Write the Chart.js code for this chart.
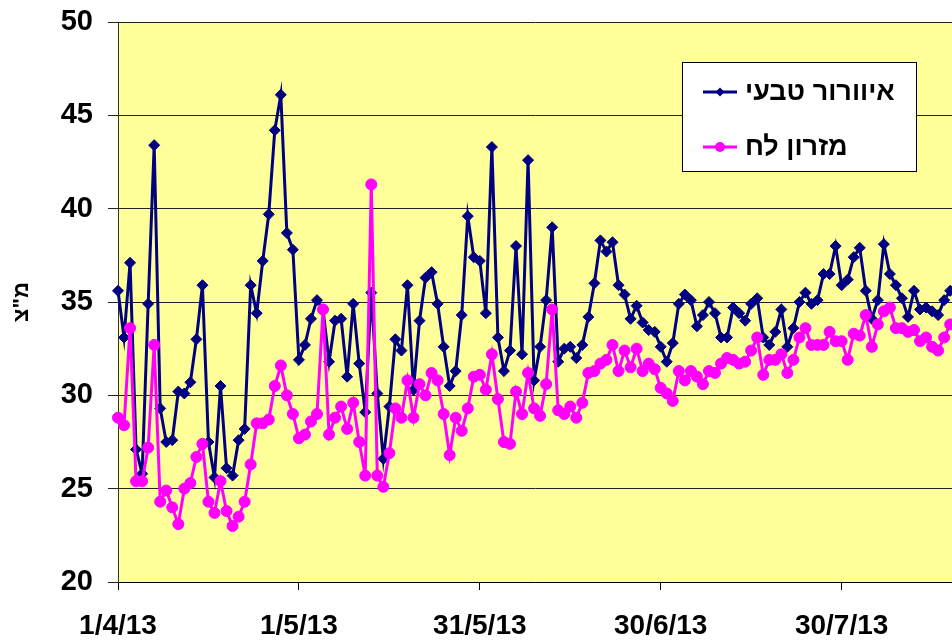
<!DOCTYPE html>
<html>
<head>
<meta charset="utf-8">
<script src="https://cdn.jsdelivr.net/npm/chart.js@4/dist/chart.umd.min.js"></script>
<style>html,body{margin:0;padding:0;background:#fff;overflow:hidden}</style>
</head>
<body>
<canvas id="c" width="952" height="641"></canvas>
<script>
// Series names (legend)
const seriesNames = ['איוורור טבעי', 'מזרון לח'];
const yAxisTitle = 'מ"צ';
// X tick labels and their day offsets from 1/4/13
const tickLabels = ['1/4/13', '1/5/13', '31/5/13', '30/6/13', '30/7/13'];
const tickDays = [0, 30, 60, 90, 120];
// Daily values starting 1/4/13
const naturalVent = [
  35.6, 33.1, 37.1, 27.1, 25.8, 34.9, 43.4, 29.3, 27.5, 27.6,
  30.2, 30.1, 30.7, 33.0, 35.9, 27.5, 25.6, 30.5, 26.1, 25.7,
  27.6, 28.2, 35.9, 34.4, 37.2, 39.7, 44.2, 46.1, 38.7, 37.8,
  31.9, 32.7, 34.1, 35.1, 34.6, 31.8, 34.0, 34.1, 31.0, 34.9,
  31.7, 29.1, 35.5, 30.1, 26.6, 29.4, 33.0, 32.4, 35.9, 30.3,
  34.0, 36.3, 36.6, 34.9, 32.6, 30.5, 31.3, 34.3, 39.6, 37.4,
  37.2, 34.4, 43.3, 33.1, 31.3, 32.4, 38.0, 32.2, 42.6, 30.8,
  32.6, 35.1, 39.0, 31.8, 32.5, 32.6, 32.0, 32.7, 34.2, 36.0,
  38.3, 37.7, 38.2, 35.9, 35.4, 34.1, 34.8, 33.9, 33.5, 33.4,
  32.6, 31.8, 32.8, 34.9, 35.4, 35.1, 33.7, 34.3, 35.0, 34.4,
  33.1, 33.1, 34.7, 34.4, 34.0, 34.9, 35.2, 33.1, 32.7, 33.4,
  34.6, 32.6, 33.6, 35.0, 35.5, 34.9, 35.1, 36.5, 36.5, 38.0,
  35.9, 36.2, 37.4, 37.9, 35.6, 34.1, 35.1, 38.1, 36.5, 35.9,
  35.2, 34.2, 35.6, 34.6, 34.7, 34.5, 34.3, 35.1, 35.6
];
const wetPad = [
  28.8, 28.4, 33.6, 25.4, 25.4, 27.2, 32.7, 24.3, 24.9, 24.0,
  23.1, 25.0, 25.3, 26.7, 27.4, 24.3, 23.7, 25.4, 23.8, 23.0,
  23.5, 24.3, 26.3, 28.5, 28.5, 28.7, 30.5, 31.6, 30.0, 29.0,
  27.7, 27.9, 28.6, 29.0, 34.6, 27.9, 28.8, 29.4, 28.2, 29.6,
  27.5, 25.7, 41.3, 25.7, 25.1, 26.9, 29.3, 28.8, 30.8, 28.8,
  30.6, 30.0, 31.2, 30.8, 29.0, 26.8, 28.8, 28.1, 29.3, 31.0,
  31.1, 30.3, 32.2, 29.8, 27.5, 27.4, 30.2, 29.0, 31.2, 29.3,
  28.9, 30.6, 34.6, 29.2, 29.0, 29.4, 28.8, 29.6, 31.2, 31.3,
  31.7, 31.9, 32.7, 31.3, 32.4, 31.5, 32.5, 31.3, 31.7, 31.4,
  30.4, 30.1, 29.7, 31.3, 30.8, 31.3, 31.0, 30.6, 31.3, 31.2,
  31.7, 32.0, 31.9, 31.7, 31.8, 32.4, 33.1, 31.1, 31.9, 31.9,
  32.2, 31.2, 31.9, 33.1, 33.6, 32.7, 32.7, 32.7, 33.4, 32.9,
  32.9, 31.9, 33.3, 33.2, 34.3, 32.6, 33.8, 34.5, 34.7, 33.6,
  33.6, 33.4, 33.5, 32.9, 33.1, 32.6, 32.4, 33.1, 33.8
];

const FONT = '"Liberation Sans", Arial, sans-serif';

const bgPlugin = {
  id: 'plotBg',
  beforeDraw(chart) {
    const a = chart.chartArea, ctx = chart.ctx;
    ctx.save();
    ctx.fillStyle = '#FFFF99';
    ctx.fillRect(a.left, a.top, a.right - a.left, a.bottom - a.top);
    ctx.restore();
  }
};

const legendPlugin = {
  id: 'boxLegend',
  afterDraw(chart) {
    const ctx = chart.ctx;
    ctx.save();
    ctx.fillStyle = '#fff';
    ctx.fillRect(682, 62, 234, 109);
    ctx.strokeStyle = '#000';
    ctx.lineWidth = 1;
    ctx.strokeRect(682.5, 62.5, 234, 109);
    const rows = [92, 147];
    chart.data.datasets.forEach((ds, i) => {
      const y = rows[i];
      ctx.strokeStyle = ds.borderColor;
      ctx.lineWidth = 3;
      ctx.beginPath(); ctx.moveTo(703, y); ctx.lineTo(737, y); ctx.stroke();
      ctx.fillStyle = ds.borderColor;
      ctx.beginPath();
      if (ds.pointStyle === 'rectRot') {
        const r = 4.5;
        ctx.moveTo(720, y - r); ctx.lineTo(720 + r, y); ctx.lineTo(720, y + r); ctx.lineTo(720 - r, y); ctx.closePath();
      } else {
        ctx.arc(720, y, 5, 0, Math.PI * 2);
      }
      ctx.fill();
      ctx.fillStyle = '#000';
      ctx.font = 'bold 27px ' + FONT;
      ctx.textAlign = 'left';
      ctx.textBaseline = 'middle';
      ctx.fillText(ds.label, 745, y + 1);
    });
    ctx.restore();
  }
};

function noPad(s) {
  s.paddingTop = 0; s.paddingBottom = 0; s.paddingLeft = 0; s.paddingRight = 0;
}

new Chart(document.getElementById('c'), {
  type: 'line',
  data: {
    datasets: [
      {
        label: seriesNames[0],
        data: naturalVent.map((v, i) => ({ x: i, y: v })),
        borderColor: '#000080', backgroundColor: '#000080',
        borderWidth: 3, tension: 0,
        pointStyle: 'rectRot', pointRadius: 5.5, pointBorderWidth: 1,
        pointBackgroundColor: '#000080', pointBorderColor: '#000080',
        clip: false, order: 1
      },
      {
        label: seriesNames[1],
        data: wetPad.map((v, i) => ({ x: i, y: v })),
        borderColor: '#FF00FF', backgroundColor: '#FF00FF',
        borderWidth: 3, tension: 0,
        pointStyle: 'circle', pointRadius: 5.5, pointBorderWidth: 1,
        pointBackgroundColor: '#FF00FF', pointBorderColor: '#FF00FF',
        clip: false, order: 0
      }
    ]
  },
  options: {
    responsive: false,
    animation: false,
    layout: { autoPadding: false, padding: { left: 0, right: 0, top: 22, bottom: 0 } },
    plugins: { legend: { display: false }, tooltip: { enabled: false } },
    scales: {
      x: {
        type: 'linear', min: 0, max: 138.3,
        afterBuildTicks(s) { s.ticks = tickDays.map(v => ({ value: v })); },
        afterFit(s) { s.height = 59; noPad(s); },
        ticks: {
          callback: (v, i) => tickLabels[i],
          font: { family: FONT, weight: 'bold', size: 28 },
          color: '#000', padding: 19, maxRotation: 0, autoSkip: false
        },
        grid: { drawOnChartArea: false, tickLength: 8, color: '#000' },
        border: { color: '#000' }
      },
      y: {
        min: 20, max: 50,
        afterFit(s) { s.width = 118; noPad(s); },
        ticks: {
          stepSize: 5,
          font: { family: FONT, weight: 'bold', size: 29 },
          color: '#000', padding: 15
        },
        grid: { color: '#222', tickLength: 10 },
        border: { color: '#333' },
        title: {
          display: true, text: yAxisTitle, color: '#000',
          font: { family: FONT, weight: 'bold', size: 22 },
          padding: { top: 9, bottom: 0 }
        }
      }
    }
  },
  plugins: [bgPlugin, legendPlugin]
});
</script>
</body>
</html>
